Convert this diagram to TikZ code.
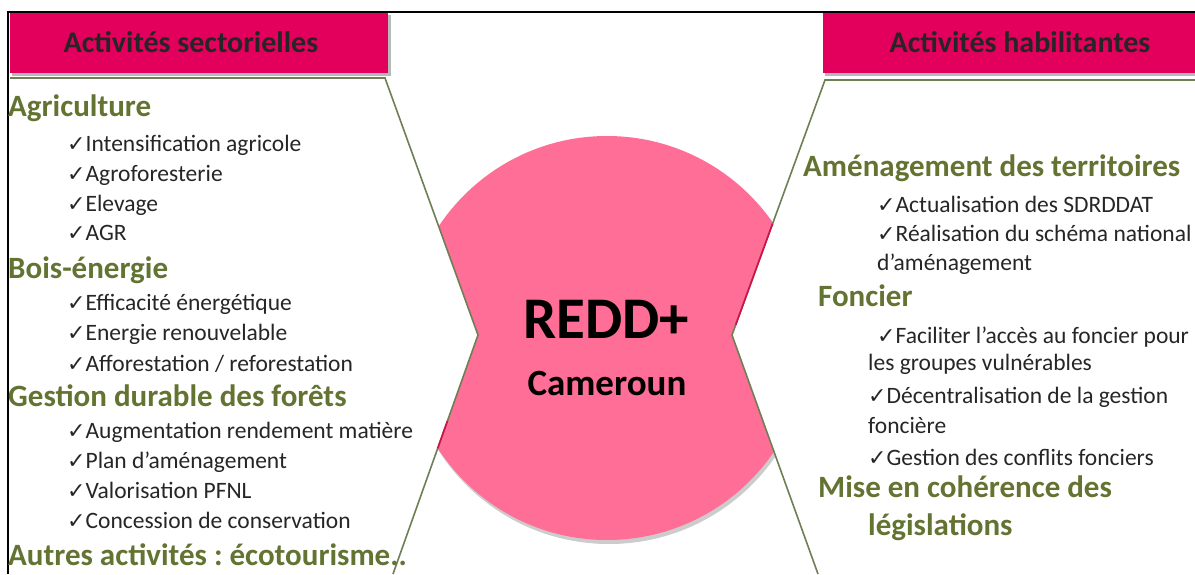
\documentclass[tikz,border=0pt]{standalone}
\usepackage{fontspec}
\setmainfont{Carlito}
\newfontfamily\symfont{DejaVu Sans}
\usetikzlibrary{calc}
\definecolor{hdrpink}{HTML}{E2005C}
\definecolor{circpink}{HTML}{FF6E96}
\definecolor{olivetxt}{HTML}{637432}
\definecolor{linegreen}{HTML}{6E7F55}
\definecolor{itemtxt}{HTML}{262626}
\definecolor{redline}{HTML}{D0104A}
\newcommand\ckm{{\symfont\fontsize{22}{26}\selectfont ✓}}
\frenchspacing
\begin{document}
\begin{tikzpicture}[x=1pt,y=-1pt,
  hdr/.style={font=\fontsize{31}{36}\selectfont\bfseries, text=olivetxt, anchor=base west, inner sep=0pt},
  item/.style={font=\fontsize{23.5}{26}\selectfont, text=itemtxt, anchor=base west, inner sep=0pt},
  headbox/.style={fill=hdrpink, anchor=north west, inner sep=0pt},
  headtxt/.style={font=\fontsize{30}{36}\selectfont\bfseries, text=black!85, inner sep=0pt},
  edge/.style={draw=linegreen, line width=1.6pt}]
\useasboundingbox (0,0) rectangle (1195,574);
\fill[white] (0,0) rectangle (1195,574);

% header boxes
\fill[gray!55] (12,15) rectangle (391,76);
\node[headbox, minimum width=378pt, minimum height=60pt] (hl) at (10,13) {};
\fill[gray!55] (825,15) rectangle (1195,76);
\node[headbox, minimum width=372pt, minimum height=60pt] (hr) at (823,13) {};
\node[headtxt] (hlt) at (191,42) {Activités sectorielles};
\node[headtxt] (hrt) at (1020,42) {Activités habilitantes};

% panel edges
\coordinate (l1) at (10,78);
\coordinate (l2) at (385,78);
\coordinate (l3) at (478,335);
\coordinate (l4) at (393,574);
\coordinate (r1) at (1195,80);
\coordinate (r2) at (825,80);
\coordinate (r3) at (732,335);
\coordinate (r4) at (818,574);

% central disc
\coordinate (c) at (607,338);
\begin{scope}
  \clip (l2) -- (l3) -- (l4) -- (r4) -- (r3) -- (r2) -- cycle;
  \fill[gray!40] ($(c)+(2,4)$) circle (202);
  \fill[circpink] (c) circle (202);
\end{scope}

\draw[edge] (l1) -- (l2) -- (l3) -- (l4);
\draw[edge] (r1) -- (r2) -- (r3) -- (r4);
\draw[redline, line width=1.6pt] ($(r2)!0.5635!(r3)$) -- ($(r2)!0.96!(r3)$);
\draw[redline, line width=1.6pt] ($(l3)!0.36!(l4)$) -- ($(l3)!0.474!(l4)$);

\node[font=\fontsize{59}{64}\selectfont\bfseries, anchor=base, inner sep=0pt] (redd) at (606,338) {REDD+};
\node[font=\fontsize{37}{42}\selectfont\bfseries, anchor=base, inner sep=0pt] (cam) at (607,395) {Cameroun};

% frame
\draw[black, line width=1.3pt] (8,574) -- (8,12) -- (1195,12);

% left column
\node[hdr] (agri) at (8,116) {Agriculture};
\node[item] (a1) at (67,151.7) {\ckm Intensification agricole};
\node[item] (a2) at (67,181.7) {\ckm Agroforesterie};
\node[item] (a3) at (67,211.7) {\ckm Elevage};
\node[item] (a4) at (67,240.5) {\ckm AGR};
\node[hdr] (bois) at (8,278) {Bois-énergie};
\node[item] (b1) at (67,310) {\ckm Efficacité énergétique};
\node[item] (b2) at (67,340) {\ckm Energie renouvelable};
\node[item] (b3) at (67,371) {\ckm Afforestation / reforestation};
\node[hdr] (gest) at (8,406.5) {Gestion durable des forêts};
\node[item] (g1) at (67,438) {\ckm Augmentation rendement matière};
\node[item] (g2) at (67,468) {\ckm Plan d’aménagement};
\node[item] (g3) at (67,498) {\ckm Valorisation PFNL};
\node[item] (g4) at (67,528) {\ckm Concession de conservation};
\node[hdr] (autr) at (8,565) {Autres activités : écotourisme..};

% right column
\node[hdr] (amen) at (803,176) {Aménagement des territoires};
\node[item] (m1) at (877,212.7) {\ckm Actualisation des SDRDDAT};
\node[item] (m2) at (877,241.7) {\ckm Réalisation du schéma national};
\node[item] (m3) at (877,270.7) {d’aménagement};
\node[hdr] (fonc) at (818,306.7) {Foncier};
\node[item] (f1) at (877,343) {\ckm Faciliter l’accès au foncier pour};
\node[item] (f2) at (868,370) {les groupes vulnérables};
\node[item] (f3) at (868,403) {\ckm Décentralisation de la gestion};
\node[item] (f4) at (868,433) {foncière};
\node[item] (f5) at (868,465) {\ckm Gestion des conflits fonciers};
\node[hdr] (mise) at (818,497) {Mise en cohérence des};
\node[hdr] (legi) at (868,535) {législations};
\end{tikzpicture}
\end{document}
